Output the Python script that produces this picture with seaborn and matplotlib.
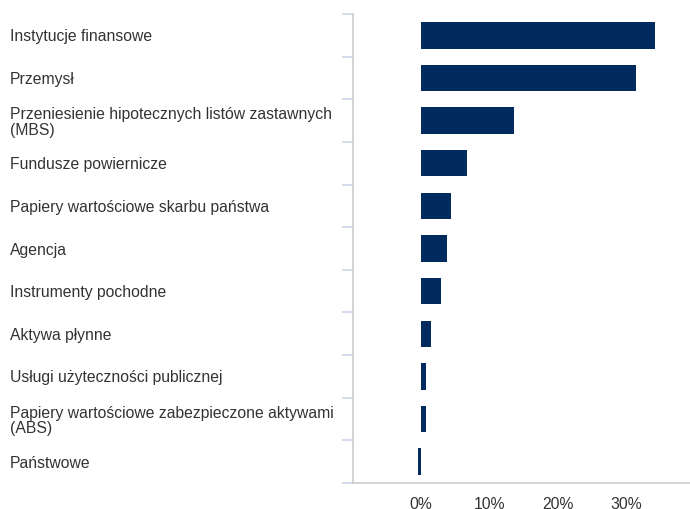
import matplotlib
matplotlib.use("Agg")
import matplotlib.pyplot as plt
import seaborn as sns
import pandas as pd
from matplotlib.ticker import FixedLocator, FuncFormatter

categories = [
    "Instytucje finansowe",
    "Przemysł",
    "Przeniesienie hipotecznych listów zastawnych\n(MBS)",
    "Fundusze powiernicze",
    "Papiery wartościowe skarbu państwa",
    "Agencja",
    "Instrumenty pochodne",
    "Aktywa płynne",
    "Usługi użyteczności publicznej",
    "Papiery wartościowe zabezpieczone aktywami\n(ABS)",
    "Państwowe",
]
values = [34.3, 31.5, 13.6, 6.7, 4.4, 3.8, 2.9, 1.5, 0.7, 0.7, -0.4]
x_ticks = [0, 10, 20, 30]

sns.set_theme(style="white")
plt.rcParams["font.family"] = ["Liberation Sans", "DejaVu Sans"]

df = pd.DataFrame({"cat": categories, "val": values})

fig = plt.figure(figsize=(6.9, 5.09), dpi=100)
ax = fig.add_axes([353 / 690, 1 - 483 / 509, 1 - 353 / 690, (483 - 14) / 509])

sns.barplot(data=df, y="cat", x="val", orient="h", color="#012a5e",
            saturation=1, width=0.62, linewidth=0, ax=ax)

ax.set_xlim(-10, 39.4)
ax.set_ylim(len(categories) - 0.5, -0.5)
ax.set_xlabel("")
ax.set_ylabel("")

ax.xaxis.set_major_locator(FixedLocator(x_ticks))
ax.xaxis.set_major_formatter(FuncFormatter(lambda v, p: f"{v:.0f}%"))
ax.tick_params(axis="x", length=0, pad=10, labelsize=11.3, labelcolor="#333333")

# category labels, left aligned near figure edge
ax.tick_params(axis="y", which="major", length=0, pad=247, labelsize=11.3,
               labelcolor="#333333")
for lbl in ax.get_yticklabels():
    lbl.set_horizontalalignment("left")
    lbl.set_linespacing(1.05)

# boundary tick marks
ax.set_yticks([i - 0.5 for i in range(len(categories) + 1)], minor=True)
ax.tick_params(axis="y", which="minor", length=8, width=1.2, color="#ccd6eb",
               direction="out", left=True)

for s in ["top", "right"]:
    ax.spines[s].set_visible(False)
for s in ["left", "bottom"]:
    ax.spines[s].set_color("#cccccc")
    ax.spines[s].set_linewidth(1.2)

fig.savefig("out.png", dpi=100)
